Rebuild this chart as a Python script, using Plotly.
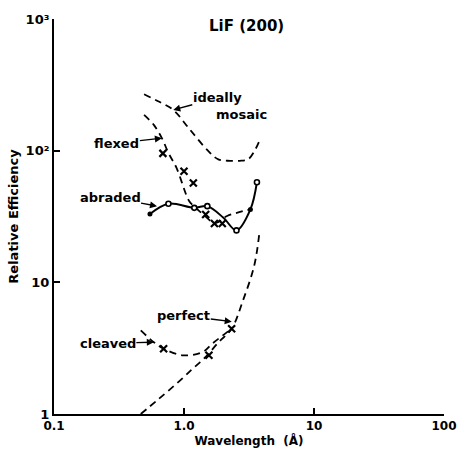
import numpy as np
import plotly.graph_objects as go

# ---- data (wavelength in Angstrom, relative efficiency) ----
mosaic_wl = [0.493, 0.639, 0.827, 1.095, 1.546, 1.837, 2.258, 2.763, 3.096, 3.47, 3.786]
mosaic_eff = [268, 236, 204, 147, 98.8, 85.9, 83.7, 84, 85.5, 98.8, 117.5]

flexed_wl = [0.493, 0.586, 0.676, 0.759, 0.876, 1.095, 1.194, 1.394, 1.744, 2.145, 3.243]
flexed_eff = [187, 157, 124.5, 96, 73.9, 41.4, 37.9, 33.0, 28.2, 31.9, 35.8]
flexed_mk_wl = [0.688, 1.0, 1.18, 1.468, 1.714, 1.97]
flexed_mk_eff = [95.4, 69.8, 56.9, 32.8, 28.0, 28.0]

abraded_wl = [0.547, 0.759, 1.20, 1.512, 2.012, 2.534, 3.243, 3.64]
abraded_eff = [33.0, 39.5, 36.8, 37.9, 30.9, 24.8, 35.8, 57.6]
abraded_open_wl = [0.759, 1.20, 1.512, 2.534, 3.64]
abraded_open_eff = [39.5, 36.8, 37.9, 24.8, 57.6]
abraded_fill_wl = [0.547, 3.243]
abraded_fill_eff = [33.0, 35.8]

perfect_wl = [0.465, 0.621, 0.876, 1.168, 1.468, 1.846, 2.325, 2.84, 3.47, 3.8]
perfect_eff = [1.0, 1.27, 1.70, 2.21, 2.71, 3.51, 4.44, 7.26, 13.4, 23.7]
perfect_mk_wl = [2.325]
perfect_mk_eff = [4.44]

cleaved_wl = [0.465, 0.586, 0.697, 0.983, 1.387, 1.648, 2.325]
cleaved_eff = [4.31, 3.51, 3.13, 2.79, 2.95, 3.42, 4.44]
cleaved_mk_wl = [0.697, 1.555]
cleaved_mk_eff = [3.13, 2.79]

x_ticks = [0.1, 1.0, 10, 100]
x_ticktext = ["0.1", "1.0", "10", "100"]
y_ticks = [1, 10, 100, 1000]
y_ticktext = ["1", "10", "10²", "10³"]

FONT = "DejaVu Sans"
dash = "7px,5px"
fig = go.Figure()

def dashed(x, y):
    fig.add_trace(go.Scatter(x=x, y=y, mode="lines",
                             line=dict(color="black", width=1.8, dash=dash, shape="spline", smoothing=1.0),
                             showlegend=False, hoverinfo="skip"))

def xmarks(x, y):
    fig.add_trace(go.Scatter(x=x, y=y, mode="markers",
                             marker=dict(symbol="x-thin", size=7, line=dict(color="black", width=2.2)),
                             showlegend=False, hoverinfo="skip"))

dashed(mosaic_wl, mosaic_eff)
dashed(flexed_wl, flexed_eff)
xmarks(flexed_mk_wl, flexed_mk_eff)
fig.add_trace(go.Scatter(x=abraded_wl, y=abraded_eff, mode="lines",
                         line=dict(color="black", width=2, shape="spline", smoothing=1.0),
                         showlegend=False, hoverinfo="skip"))
fig.add_trace(go.Scatter(x=abraded_open_wl, y=abraded_open_eff, mode="markers",
                         marker=dict(symbol="circle", size=5, color="white", line=dict(color="black", width=1.6)),
                         showlegend=False, hoverinfo="skip"))
fig.add_trace(go.Scatter(x=abraded_fill_wl, y=abraded_fill_eff, mode="markers",
                         marker=dict(symbol="circle", size=5, color="black"),
                         showlegend=False, hoverinfo="skip"))
dashed(perfect_wl, perfect_eff)
dashed(cleaved_wl, cleaved_eff)
xmarks(perfect_mk_wl, perfect_mk_eff)
xmarks(cleaved_mk_wl, cleaved_mk_eff)

tfont = dict(family=FONT, size=13, color="black")
ann = []

def label(text, px, py, xanchor="left", size=13):
    ann.append(dict(text="<b>%s</b>" % text, xref="paper", yref="paper", x=px, y=py,
                    xanchor=xanchor, yanchor="middle", showarrow=False,
                    font=dict(family=FONT, size=size, color="black")))

def arrow_label(text, xv, yv, ax, ay):
    ann.append(dict(text="<b>%s</b>" % text, x=np.log10(xv), y=np.log10(yv), xref="x", yref="y",
                    ax=ax, ay=ay, showarrow=True, arrowhead=2, arrowsize=1,
                    arrowwidth=1.4, arrowcolor="black", standoff=0, borderpad=0,
                    font=tfont))

label("LiF (200)", 0.494, 0.982, "center", size=15)
label("mosaic", 0.409, 0.758)
arrow_label("ideally", mosaic_wl[2], mosaic_eff[2], 44, -12)
arrow_label("flexed", flexed_wl[2], flexed_eff[2], -45, 5)
arrow_label("abraded", 0.62, 37.9, -47, -9)
arrow_label("cleaved", cleaved_wl[1], cleaved_eff[1], -46, 1)
arrow_label("perfect", 2.33, 5.03, -48, -6)

fig.update_layout(
    width=469, height=459,
    margin=dict(l=54, r=14, t=17, b=45),
    paper_bgcolor="white", plot_bgcolor="white",
    annotations=ann,
    font=dict(family=FONT, size=12, color="black"),
)
fig.update_xaxes(type="log", range=[-1, 2], tickvals=x_ticks, ticktext=["<b>%s</b>" % t for t in x_ticktext],
                 showline=True, linecolor="black", linewidth=2, ticks="inside", ticklen=6, tickwidth=1.6,
                 tickcolor="black", showgrid=False, zeroline=False, tickfont=dict(family=FONT, size=12),
                 title=dict(text="<b>Wavelength  (Å)</b>", standoff=3, font=dict(family=FONT, size=12)))
fig.update_yaxes(type="log", range=[0, 3], tickvals=y_ticks, ticktext=["<b>%s</b>" % t for t in y_ticktext],
                 showline=True, linecolor="black", linewidth=2, ticks="inside", ticklen=6, tickwidth=1.6,
                 tickcolor="black", showgrid=False, zeroline=False, tickfont=dict(family=FONT, size=13),
                 title=dict(text="<b>Relative Efficiency</b>", standoff=4, font=dict(family=FONT, size=13)))

fig.write_html("out.html")
